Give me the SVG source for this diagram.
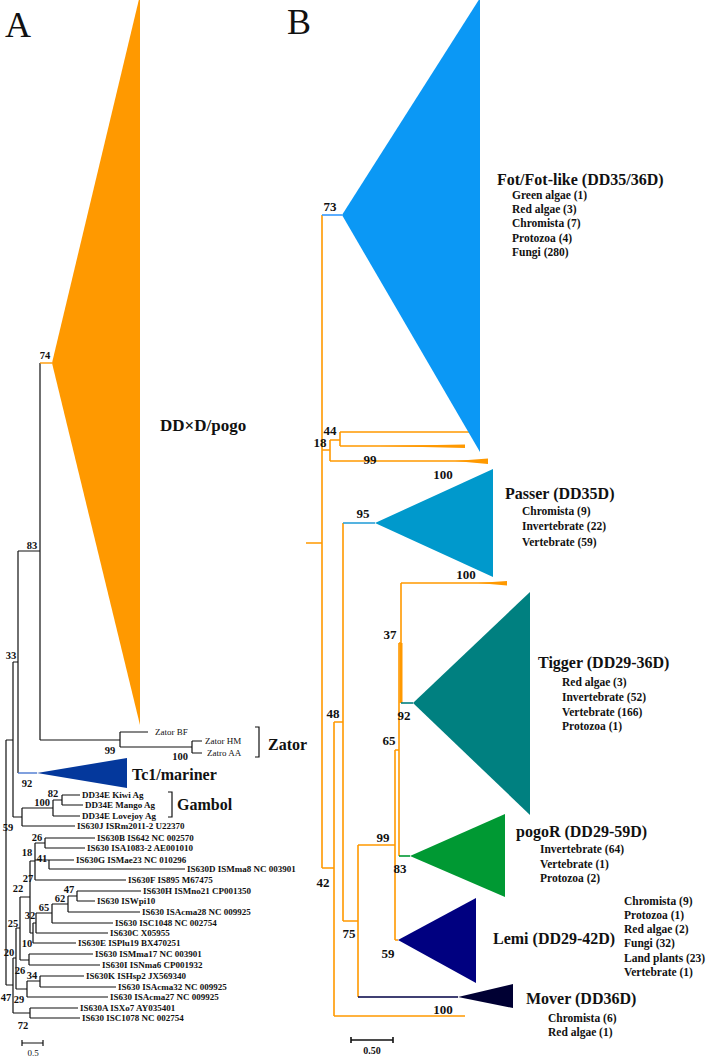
<svg xmlns="http://www.w3.org/2000/svg" width="709" height="1056" viewBox="0 0 709 1056">
<style>
.a{stroke:#111;stroke-width:1.2;fill:none}
.o{stroke:#FF9900;stroke-width:1.6;fill:none}
.lf{font-family:"Liberation Serif",serif;font-weight:bold;font-size:9px;fill:#111}
.bs{font-family:"Liberation Serif",serif;font-weight:bold;font-size:10.5px;fill:#111;text-anchor:middle}
.bb{font-family:"Liberation Serif",serif;font-weight:bold;font-size:13px;fill:#111;text-anchor:middle}
.cl{font-family:"Liberation Serif",serif;font-weight:bold;font-size:16px;fill:#111}
.sb{font-family:"Liberation Serif",serif;font-weight:bold;font-size:11.5px;fill:#111}
.zl{font-family:"Liberation Serif",serif;font-size:9px;fill:#111}
.pl{font-family:"Liberation Serif",serif;font-size:36px;fill:#111}
</style>
<rect width="709" height="1056" fill="#fff"/>
<text class="pl" x="5" y="37">A</text>
<text class="pl" x="287" y="34">B</text>

<g id="connectors">
<!-- Tree A -->
<path class="a" d="M6,740V985 M6,740H13 M6,985H13 M13,662V817 M13,662H18 M18,551V773 M18,551H40 M40,363V740 M40,740H120 M120,732V747 M120,732H148 M120,747H192 M192,741V753 M192,741H202 M192,753H202"/>
<path d="M40,363H52" stroke="#FF9900" stroke-width="1.4"/>
<path d="M18,773H37" stroke="#4a78d0" stroke-width="1.4"/>
<path class="a" d="M13,817H22 M22,808V826 M22,826H75 M22,808H53 M53,800V816 M53,816H80 M53,800H62 M62,795V805 M62,795H80 M62,805H83"/>
<path class="a" d="M13,958V1013 M13,1013H30 M30,1008V1018 M30,1008H78 M30,1018H80 M13,958H16 M16,928V989 M16,989H27 M27,981V997 M27,997H108 M27,981H40 M40,976V987 M40,976H84 M40,987H116 M16,928H20 M20,897V960 M20,960H29 M29,954V965 M29,954H93 M29,965H100 M20,897H30 M30,861V933 M30,861H35 M35,843V880 M35,843H45 M45,838V848 M45,838H95 M45,848H85 M35,860H74 M49,860V869 M49,869H185 M35,880H126 M30,933H33 M33,923V943 M33,943H76 M33,923H36 M36,913V933 M36,933H108 M36,913H52 M52,904V923 M52,923H113 M52,904H68 M68,896V912 M68,912H140 M68,896H77 M77,891V901 M77,891H141 M77,901H95"/>
<!-- brackets -->
<path class="a" d="M255,727H259V757H255 M168,792H172V817H168"/>
<!-- scale A -->
<path class="a" d="M22,1043H43 M22,1040V1046 M43,1040V1046"/>

<!-- Tree B -->
<path class="o" d="M322,215V868 M306,543H322 M322,450H330 M330,440V461 M330,440H340 M340,432V446 M340,432H470 M340,446H465 M330,461H488 M322,868H334 M334,722V1016 M334,1016H465 M334,722H343 M343,523V921 M343,921H358 M358,845V997 M358,845H395 M395,750V940 M395,940H398 M395,750H399 M399,643V856 M399,643H401 M401,583V703 M401,583H507"/>
<path d="M401,643V703" stroke="#FF9900" stroke-width="3"/>
<polygon points="380,446 465,444.5 465,448" fill="#FF9900"/>
<polygon points="455,461 488,458.5 488,464" fill="#FF9900"/>
<polygon points="478,583 507,581 507,585.5" fill="#FF9900"/>
<path d="M322,215H342" stroke="#3399ff" stroke-width="1.6"/>
<path d="M343,523H375" stroke="#2aa0d8" stroke-width="1.6"/>
<path d="M401,703H413" stroke="#008080" stroke-width="1.6"/>
<path d="M399,856H410" stroke="#009933" stroke-width="1.6"/>
<path d="M358,997H458" stroke="#000044" stroke-width="1.6"/>
<!-- scale B -->
<path d="M351,1040H393 M351,1037V1043 M393,1037V1043" stroke="#111" stroke-width="1.6"/>
</g>

<g id="pogoA">
<polygon points="52,363 140,-5 140,725" fill="#FF9900"/>
<text class="cl" x="160" y="431" style="font-size:17px">DD×D/pogo</text>
<text class="bs" x="45" y="359">74</text>
</g>
<g id="zator">
<text class="zl" x="155" y="735">Zator BF</text>
<text class="zl" x="205" y="744">Zator HM</text>
<text class="zl" x="207" y="756">Zatro AA</text>
<text class="cl" x="268" y="750">Zator</text>
<text class="bs" x="110" y="754">99</text>
<text class="bs" x="180" y="760">100</text>
</g>
<g id="tc1">
<polygon points="37,773 127,758 127,788" fill="#04389c"/>
<text class="cl" x="132" y="780">Tc1/mariner</text>
<text class="bs" x="27" y="787">92</text>
</g>
<g id="gambol">
<text class="lf" x="82" y="798">DD34E Kiwi Ag</text>
<text class="lf" x="85" y="808">DD34E Mango Ag</text>
<text class="lf" x="82" y="819">DD34E Lovejoy Ag</text>
<text class="cl" x="177" y="810">Gambol</text>
<text class="bs" x="53" y="797">82</text>
<text class="bs" x="42" y="806">100</text>
<text class="bs" x="8" y="831">59</text>
</g>
<g id="is630">
<text class="lf" x="77" y="829">IS630J ISRm2011-2 U22370</text>
<text class="lf" x="97" y="841">IS630B IS642 NC 002570</text>
<text class="lf" x="87" y="851">IS630 ISA1083-2 AE001010</text>
<text class="lf" x="76" y="863">IS630G ISMae23 NC 010296</text>
<text class="lf" x="187" y="872">IS630D ISMma8 NC 003901</text>
<text class="lf" x="128" y="883">IS630F IS895 M67475</text>
<text class="lf" x="143" y="894">IS630H ISMno21 CP001350</text>
<text class="lf" x="97" y="904">IS630 ISWpi10</text>
<text class="lf" x="142" y="915">IS630 ISAcma28 NC 009925</text>
<text class="lf" x="115" y="926">IS630 ISC1048 NC 002754</text>
<text class="lf" x="110" y="936">IS630C X05955</text>
<text class="lf" x="78" y="946">IS630E ISPlu19 BX470251</text>
<text class="lf" x="95" y="957">IS630 ISMma17 NC 003901</text>
<text class="lf" x="102" y="968">IS630I ISNma6 CP001932</text>
<text class="lf" x="86" y="979">IS630K ISHsp2 JX569340</text>
<text class="lf" x="118" y="990">IS630 ISAcma32 NC 009925</text>
<text class="lf" x="110" y="1000">IS630 ISAcma27 NC 009925</text>
<text class="lf" x="80" y="1011">IS630A ISXo7 AY035401</text>
<text class="lf" x="82" y="1021">IS630 ISC1078 NC 002754</text>
<text class="bs" x="37" y="841">26</text>
<text class="bs" x="27" y="856">18</text>
<text class="bs" x="42" y="862">41</text>
<text class="bs" x="28" y="882">27</text>
<text class="bs" x="18" y="892">22</text>
<text class="bs" x="69" y="893">47</text>
<text class="bs" x="60" y="902">62</text>
<text class="bs" x="44" y="911">65</text>
<text class="bs" x="30" y="919">32</text>
<text class="bs" x="13" y="927">25</text>
<text class="bs" x="27" y="947">10</text>
<text class="bs" x="9" y="956">20</text>
<text class="bs" x="20" y="974">26</text>
<text class="bs" x="32" y="979">34</text>
<text class="bs" x="6" y="1001">47</text>
<text class="bs" x="19" y="1003">29</text>
<text class="bs" x="23" y="1029">72</text>
<text class="bs" x="11" y="659">33</text>
<text class="bs" x="32" y="549">83</text>
<text class="zl" x="33" y="1056" text-anchor="middle">0.5</text>
</g>

<g id="fot">
<polygon points="342,215 480,-2 480,452" fill="#0b98f5"/>
<text class="cl" x="497" y="185">Fot/Fot-like (DD35/36D)</text>
<text class="sb" x="512" y="199">Green algae (1)</text>
<text class="sb" x="512" y="213">Red algae (3)</text>
<text class="sb" x="512" y="227">Chromista (7)</text>
<text class="sb" x="512" y="242">Protozoa (4)</text>
<text class="sb" x="512" y="256">Fungi (280)</text>
<text class="bb" x="330" y="211">73</text>
</g>
<g id="unnamedB">
<text class="bb" x="330" y="435">44</text>
<text class="bb" x="320" y="447">18</text>
<text class="bb" x="370" y="464">99</text>
<text class="bb" x="443" y="479">100</text>
</g>
<g id="passer">
<polygon points="375,523 493,469 493,577" fill="#0099cc"/>
<text class="cl" x="505" y="499">Passer (DD35D)</text>
<text class="sb" x="522" y="515">Chromista (9)</text>
<text class="sb" x="522" y="530">Invertebrate (22)</text>
<text class="sb" x="522" y="546">Vertebrate (59)</text>
<text class="bb" x="363" y="518">95</text>
<text class="bb" x="466" y="579">100</text>
</g>
<g id="tigger">
<polygon points="413,703 530,592 530,815" fill="#008080"/>
<text class="cl" x="538" y="668">Tigger (DD29-36D)</text>
<text class="sb" x="562" y="686">Red algae (3)</text>
<text class="sb" x="562" y="701">Invertebrate (52)</text>
<text class="sb" x="562" y="716">Vertebrate (166)</text>
<text class="sb" x="562" y="730">Protozoa (1)</text>
<text class="bb" x="390" y="639">37</text>
<text class="bb" x="404" y="720">92</text>
<text class="bb" x="389" y="745">65</text>
<text class="bb" x="333" y="718">48</text>
</g>
<g id="pogoR">
<polygon points="410,856 505,814 505,897" fill="#009933"/>
<text class="cl" x="516" y="837">pogoR (DD29-59D)</text>
<text class="sb" x="540" y="853">Invertebrate (64)</text>
<text class="sb" x="540" y="868">Vertebrate (1)</text>
<text class="sb" x="540" y="882">Protozoa (2)</text>
<text class="bb" x="383" y="842">99</text>
<text class="bb" x="400" y="873">83</text>
<text class="bb" x="323" y="887">42</text>
</g>
<g id="lemi">
<polygon points="398,940 476,898 476,983" fill="#000080"/>
<text class="cl" x="493" y="944">Lemi (DD29-42D)</text>
<text class="sb" x="624" y="905">Chromista (9)</text>
<text class="sb" x="624" y="919">Protozoa (1)</text>
<text class="sb" x="624" y="933">Red algae (2)</text>
<text class="sb" x="624" y="947">Fungi (32)</text>
<text class="sb" x="624" y="962">Land plants (23)</text>
<text class="sb" x="624" y="976">Vertebrate (1)</text>
<text class="bb" x="349" y="938">75</text>
<text class="bb" x="388" y="958">59</text>
</g>
<g id="mover">
<polygon points="458,997 513,984 513,1008" fill="#000033"/>
<text class="cl" x="526" y="1004">Mover (DD36D)</text>
<text class="sb" x="548" y="1022">Chromista (6)</text>
<text class="sb" x="548" y="1036">Red algae (1)</text>
<text class="bb" x="443" y="1014">100</text>
<text class="bb" x="372" y="1054" style="font-size:10px">0.50</text>
</g>
</svg>
